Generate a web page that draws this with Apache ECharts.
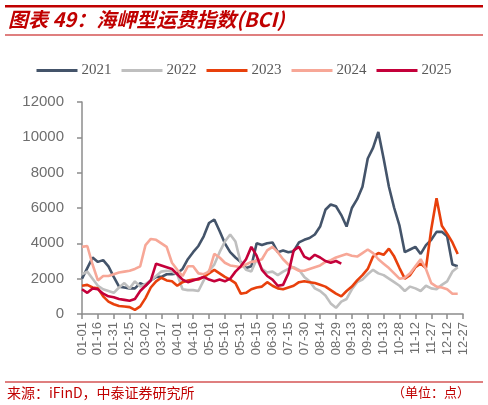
<!DOCTYPE html>
<html>
<head>
<meta charset="utf-8">
<script src="https://cdn.jsdelivr.net/npm/echarts@6/dist/echarts.min.js"></script>
<style>
html,body{margin:0;padding:0;background:#fff;}
#c{width:488px;height:405px;}
</style>
</head>
<body>
<div id="c"></div>
<script>
var categories = ['01-01','01-06','01-11','01-16','01-21','01-26','01-31',
'02-05','02-10','02-15','02-20','02-25',
'03-02','03-07','03-12','03-17','03-22','03-27',
'04-01','04-06','04-11','04-16','04-21','04-26',
'05-01','05-06','05-11','05-16','05-21','05-26','05-31',
'06-05','06-10','06-15','06-20','06-25','06-30',
'07-05','07-10','07-15','07-20','07-25','07-30',
'08-04','08-09','08-14','08-19','08-24','08-29',
'09-03','09-08','09-13','09-18','09-23','09-28',
'10-03','10-08','10-13','10-18','10-23','10-28',
'11-02','11-07','11-12','11-17','11-22','11-27',
'12-02','12-07','12-12','12-17','12-22','12-27'];

var seriesNames = ['2021','2022','2023','2024','2025'];

var y2021 = [2000,2600,3200,2950,3050,2700,2100,1550,1500,1450,1450,1750,1600,1900,2100,2100,2250,2250,
2300,2550,3100,3500,3850,4400,5150,5350,4700,4000,3500,3200,2950,2600,2700,4000,3900,4000,4050,3500,
3600,3500,3550,4050,4200,4300,4500,4950,5900,6200,6100,5600,4950,6000,6500,7200,8800,9400,10300,
8800,7200,6000,5000,3500,3650,3800,3400,3900,4200,4650,4650,4400,2800,2700];

var y2022 = [2250,2400,2000,1600,1400,1300,1200,1500,1750,1450,1850,1550,1700,1900,2150,2400,2450,2400,
2250,1400,1350,1350,1300,1900,2450,2800,3500,4100,4500,4100,2900,2500,2400,3100,2550,2350,2400,2200,
2400,2550,2650,2500,2100,1850,1450,1300,1050,600,350,700,850,1400,1800,1950,2250,2500,2300,2200,
2000,1800,1600,1300,1550,1450,1300,1600,1450,1400,1650,1850,2400,2650];

var y2023 = [1600,1650,1500,1450,1000,700,550,450,420,390,230,430,900,1500,1850,2050,1900,1850,
1600,1800,1900,1950,1950,2100,2300,2500,2300,2100,1950,1750,1150,1200,1400,1500,1550,1800,1600,1450,
1400,1500,1600,1800,1850,1800,1750,1650,1550,1350,1150,1000,1300,1550,1900,2200,2550,3250,3450,
3350,3700,3250,2600,2000,2200,2650,2850,2600,4800,6550,5000,4550,4050,3400];

var y2024 = [3800,3850,2800,1900,2150,2150,2250,2350,2400,2450,2550,2700,3900,4250,4200,4000,3800,2900,
2500,2150,2700,2700,2300,2250,2400,3400,3200,2900,2750,2700,2650,2800,2950,3000,3100,3600,3800,3500,
3100,2800,2600,2450,2450,2550,2650,2750,2950,3050,3200,3300,3400,3300,3250,3450,3650,3450,3100,
2850,2600,2300,2000,2050,2300,2700,3100,2550,1750,1550,1500,1400,1150,1150];

var y2025 = [1400,1200,1450,1400,1150,1000,950,850,800,750,850,1300,1600,1900,2850,2750,2650,2550,
2250,1950,1800,1900,2000,2100,1950,1850,1950,1850,2000,2400,2700,3100,3800,3300,2500,2150,1950,1600,
1650,2300,3600,3800,3250,3100,3350,3200,3000,2900,3000,2850];

var yTicks = {min:0, max:12000, interval:2000};
var colors = ['#44546A','#BFBFBF','#E8400C','#F7A797','#C4003A'];
var titleText = '图表 49：海岬型运费指数(BCI)';
var sourceText = '来源：iFinD，中泰证券研究所';
var unitText = '（单位：点）';

var dataList = [y2021,y2022,y2023,y2024,y2025];
var series = seriesNames.map(function(n,k){
  return {
    name:n, type:'line', data:dataList[k], symbol:'none', smooth:false,
    lineStyle:{width:2.6, color:colors[k]}, itemStyle:{color:colors[k]},
    z: 2+k, animation:false
  };
});

var chart = echarts.init(document.getElementById('c'), null, {renderer:'canvas'});
chart.setOption({
  animation:false,
  backgroundColor:'#fff',
  color:colors,
  grid:{left:82, right:25, top:102, bottom:91, containLabel:false},
  legend:{
    data:seriesNames, top:58, left:'center', icon:'rect', itemWidth:41, itemHeight:3, itemGap:10,
    textStyle:{fontFamily:'Liberation Serif', fontSize:15, color:'#595959', padding:[0,0,0,-1]}
  },
  xAxis:{
    type:'category', data:categories, boundaryGap:false,
    axisLine:{lineStyle:{color:'#8C8C8C', width:1.5}},
    axisTick:{show:true, interval:2, length:5, lineStyle:{color:'#8C8C8C', width:1.5}},
    axisLabel:{interval:2, rotate:90, fontSize:13, color:'#6E6E6E', margin:8, fontFamily:'Liberation Sans'}
  },
  yAxis:{
    type:'value', min:yTicks.min, max:yTicks.max, interval:yTicks.interval,
    axisLine:{show:true, lineStyle:{color:'#8C8C8C', width:1.5}},
    axisTick:{show:true, length:5, lineStyle:{color:'#8C8C8C', width:1.5}},
    splitLine:{show:false},
    axisLabel:{fontSize:15, color:'#6E6E6E', margin:18, fontFamily:'Liberation Sans',
      formatter:function(v){return String(v);}}
  },
  graphic:[
    {type:'rect', shape:{x:5, y:5, width:478, height:2.5}, style:{fill:'#C00000'}},
    {type:'text', left:8, top:9, style:{text:titleText, fill:'#C00000', font:'italic bold 20px "Noto Sans CJK SC", sans-serif'}},
    {type:'rect', shape:{x:5, y:34.5, width:478, height:1}, style:{fill:'#C00000'}},
    {type:'rect', shape:{x:5, y:381.5, width:478, height:1}, style:{fill:'#C00000'}},
    {type:'text', left:7, top:386, style:{text:sourceText, fill:'#C00000', font:'14px "Noto Sans CJK SC", sans-serif'}},
    {type:'text', right:18, top:386, style:{text:unitText, fill:'#C00000', font:'13px "Noto Sans CJK SC", sans-serif'}}
  ],
  series:series
});
</script>
</body>
</html>
